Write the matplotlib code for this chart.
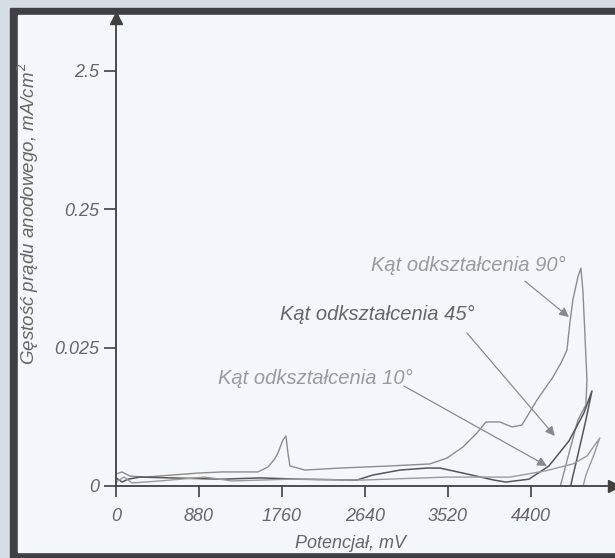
import matplotlib.pyplot as plt
from matplotlib.patches import Rectangle

plt.rcParams['font.family'] = ['Liberation Sans', 'DejaVu Sans']

# krzywe polaryzacji, potencjal w mV, gestosc pradu w mA/cm2
pot_90 = [0, 64, 148, 307, 594, 869, 1124, 1505, 1611, 1680, 1717, 1770, 1802, 1823,
          1844, 2003, 2374, 2904, 3328, 3509, 3678, 3827, 3922, 4070, 4198, 4304,
          4463, 4632, 4720, 4781, 4812, 4844, 4897, 4929, 4950, 4971, 4993, 4982,
          4897, 4812, 4728, 4696]
cur_90 = [0.00305, 0.00316, 0.00295, 0.0029, 0.0030, 0.0031, 0.00316, 0.00316,
          0.00343, 0.0039, 0.00433, 0.00538, 0.00575, 0.00433, 0.00349, 0.00326,
          0.00337, 0.00349, 0.00361, 0.00398, 0.00478, 0.00604, 0.00726, 0.00726,
          0.00668, 0.0069, 0.01045, 0.0153, 0.0195, 0.024, 0.0377, 0.0553, 0.081,
          0.094, 0.0653, 0.0319, 0.0146, 0.00963, 0.0075, 0.00455, 0.00276, 0.0023]

pot_45 = [0, 64, 127, 254, 594, 1124, 1526, 1950, 2554, 2724, 3010, 3297, 3434,
          3678, 4007, 4134, 4378, 4590, 4802, 4961, 5046, 4982, 4897, 4834, 4812]
cur_45 = [0.00286, 0.00267, 0.0028, 0.0029, 0.00286, 0.0028, 0.00286, 0.0028,
          0.00276, 0.0030, 0.00326, 0.00337, 0.00337, 0.0031, 0.00276, 0.00267,
          0.0028, 0.00349, 0.00529, 0.00843, 0.01216, 0.0075, 0.0042, 0.00276,
          0.0023]

pot_10 = [0, 85, 170, 466, 943, 1230, 1844, 2618, 3509, 3964, 4176, 4547, 4844,
          4993, 5130, 5067, 4982, 4940]
cur_10 = [0.00267, 0.0029, 0.00263, 0.00272, 0.0029, 0.00272, 0.0028, 0.00276,
          0.0029, 0.0029, 0.0029, 0.00321, 0.00361, 0.00412, 0.00556, 0.0042,
          0.0030, 0.0023]

xticks = [0, 880, 1760, 2640, 3520, 4400]
yticks = [0.0025, 0.025, 0.25, 2.5]
ytick_labels = ['0', '0.025', '0.25', '2.5']

fig = plt.figure(figsize=(6.15, 5.58), dpi=100)
fig.patch.set_facecolor('#d6dde5')
# ramka ze skanu
fig.patches.append(Rectangle((10 / 615, -0.1), 1.2, 0.1 + (558 - 8) / 558,
                             transform=fig.transFigure, color='#3e4046', zorder=-3))
fig.patches.append(Rectangle((18 / 615, 6 / 558), 1.2, (558 - 15 - 6) / 558,
                             transform=fig.transFigure, color='#f4f7fa', zorder=-2))

ax = fig.add_axes([116 / 615, 72 / 558, 498 / 615, 468 / 558])
ax.set_zorder(2)
ax.set_facecolor('none')
ax.set_yscale('log')
ax.set_xlim(0, 5280)
ax.set_ylim(0.0025, 6.04)

ax.plot(pot_90, cur_90, color='#8c8c8c', lw=1.0)
ax.plot(pot_45, cur_45, color='#555555', lw=1.1)
ax.plot(pot_10, cur_10, color='#9a9a9a', lw=1.0)

for s in ['top', 'right']:
    ax.spines[s].set_visible(False)
for s in ['left', 'bottom']:
    ax.spines[s].set_color('#404040')
    ax.spines[s].set_linewidth(1.3)
ax.plot(0, 1, '^', color='#404040', ms=8, transform=ax.transAxes, clip_on=False)
ax.plot(1, 0, '>', color='#404040', ms=8, transform=ax.transAxes, clip_on=False)

ax.set_xticks(xticks)
ax.set_xticklabels([str(t) for t in xticks])
ax.set_yticks(yticks)
ax.set_yticklabels(ytick_labels)
ax.minorticks_off()
ax.tick_params(axis='x', direction='out', length=8, width=1.2, color='#404040',
               pad=8, labelsize=13, labelcolor='#666666')
ax.tick_params(axis='y', direction='out', length=9, width=1.2, color='#404040',
               pad=3, labelsize=13, labelcolor='#666666')
for lab in ax.get_xticklabels() + ax.get_yticklabels():
    lab.set_fontstyle('italic')

fig.text(351 / 615, 1 - 543 / 558, 'Potencjał, mV', ha='center', va='center',
         fontsize=13, style='italic', color='#666666')
fig.text(28 / 615, 1 - 214 / 558, 'Gęstość prądu anodowego, mA/cm$^2$', rotation=90,
         ha='center', va='center', fontsize=13.5, style='italic', color='#666666')

# opisy krzywych ze strzalkami
labels = [('Kąt odkształcenia 90°', 2703, 0.099, 4335, 0.0757, 4802, 0.0416, '#9a9a9a'),
          ('Kąt odkształcenia 45°', 1738, 0.0432, 3721, 0.0319, 4653, 0.00575, '#666666'),
          ('Kąt odkształcenia 10°', 1081, 0.01485, 3053, 0.0132, 4569, 0.00349, '#9a9a9a')]
for txt, tx, ty, ax0, ay0, ax1, ay1, col in labels:
    ax.text(tx, ty, txt, ha='left', va='center', fontsize=14.5, style='italic', color=col)
    ax.annotate('', xy=(ax1, ay1), xytext=(ax0, ay0),
                arrowprops=dict(arrowstyle='-|>', color='#8a8a8a', lw=0.9,
                                mutation_scale=14, shrinkA=0, shrinkB=0))

fig.savefig('out.png', dpi=100, facecolor=fig.get_facecolor())
